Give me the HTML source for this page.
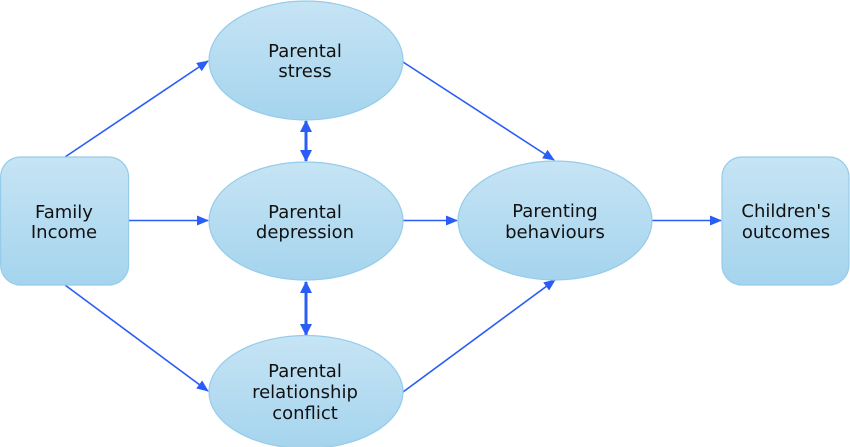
<!DOCTYPE html>
<html>
<head>
<meta charset="utf-8">
<style>
  html,body{margin:0;padding:0;background:#fff;}
  svg{display:block;}
  text{font-family:"DejaVu Sans","Liberation Sans",sans-serif;font-size:18px;fill:#111;text-anchor:middle;}
</style>
</head>
<body>
<svg width="850" height="447" viewBox="0 0 850 447" xmlns="http://www.w3.org/2000/svg">
  <defs>
    <linearGradient id="g" x1="0" y1="0" x2="0" y2="1">
      <stop offset="0" stop-color="#c6e4f4"/>
      <stop offset="1" stop-color="#a5d4ee"/>
    </linearGradient>
    <marker id="ah" markerWidth="12" markerHeight="10" refX="11" refY="5" orient="auto" markerUnits="userSpaceOnUse">
      <path d="M0,0 L12,5 L0,10 Z" fill="#2a5cf6"/>
    </marker>
    <marker id="ah2" markerWidth="12" markerHeight="12" refX="11" refY="6" orient="auto" markerUnits="userSpaceOnUse">
      <path d="M0,0 L12,6 L0,12 Z" fill="#2a5cf6"/>
    </marker>
    <marker id="ah2s" markerWidth="12" markerHeight="12" refX="1" refY="6" orient="auto" markerUnits="userSpaceOnUse">
      <path d="M12,0 L0,6 L12,12 Z" fill="#2a5cf6"/>
    </marker>
  </defs>

  <!-- connectors -->
  <g stroke="#2a5cf6" stroke-width="1.6" fill="none">
    <line x1="65" y1="157" x2="208" y2="61" marker-end="url(#ah)"/>
    <line x1="129" y1="220.5" x2="208" y2="220.5" marker-end="url(#ah)"/>
    <line x1="65" y1="285" x2="208" y2="391" marker-end="url(#ah)"/>
    <line x1="403" y1="62" x2="554" y2="160" marker-end="url(#ah)"/>
    <line x1="403" y1="220.5" x2="457" y2="220.5" marker-end="url(#ah)"/>
    <line x1="403" y1="392" x2="555" y2="280" marker-end="url(#ah)"/>
    <line x1="652" y1="220.5" x2="721" y2="220.5" marker-end="url(#ah)"/>
  </g>
  <g stroke="#2a5cf6" stroke-width="3" fill="none">
    <line x1="306" y1="121" x2="306" y2="161" marker-start="url(#ah2s)" marker-end="url(#ah2)"/>
    <line x1="306" y1="282" x2="306" y2="335" marker-start="url(#ah2s)" marker-end="url(#ah2)"/>
  </g>

  <!-- nodes -->
  <g fill="url(#g)" stroke="#95cceb" stroke-width="1.2">
    <rect x="0.6" y="157" width="128" height="128" rx="20" ry="20"/>
    <rect x="722" y="157" width="127" height="128" rx="20" ry="20"/>
    <ellipse cx="306" cy="60.5" rx="97" ry="59.5"/>
    <ellipse cx="306" cy="221" rx="97" ry="59"/>
    <ellipse cx="306" cy="392" rx="97" ry="56.5"/>
    <ellipse cx="555" cy="220.5" rx="97" ry="59.5"/>
  </g>

  <!-- labels -->
  <text x="64" y="218">Family</text>
  <text x="64" y="238">Income</text>

  <text x="305" y="57">Parental</text>
  <text x="305" y="77">stress</text>

  <text x="305" y="218">Parental</text>
  <text x="305" y="238">depression</text>

  <text x="305" y="377">Parental</text>
  <text x="305" y="398">relationship</text>
  <text x="305" y="419">conflict</text>

  <text x="555" y="217">Parenting</text>
  <text x="555" y="238">behaviours</text>

  <text x="786" y="217">Children's</text>
  <text x="786" y="238">outcomes</text>
</svg>
</body>
</html>
